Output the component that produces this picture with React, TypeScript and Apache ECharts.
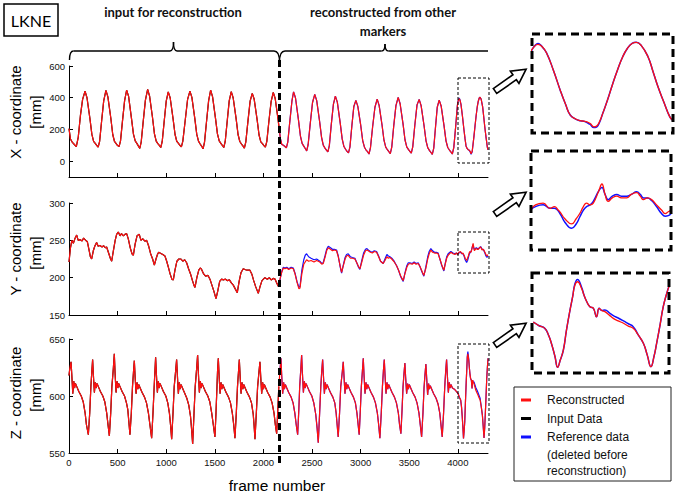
import React, { useEffect, useRef } from "react";
import * as echarts from "echarts";

type P = [number, number];

// ---------- axis tick values ----------
const frameTicks = [0, 500, 1000, 1500, 2000, 2500, 3000, 3500, 4000];
const xCoordTicks = [0, 200, 400, 600];
const yCoordTicks = [150, 200, 250, 300];
const zCoordTicks = [550, 600, 650];
const frameMax = 4310;
const splitFrame = 2163;
const zoomFrames = [4000, 4310];
const xCoordRange = [-100, 600];
const yCoordRange = [150, 300];
const zCoordRange = [550, 650];
const insetXRange = [20, 438];
const insetYRange = [208, 265];
const insetZRange = [557.7, 644.6];

// ---------- reconstructed (red) ----------
const reconX: P[] = [
  [0,205],[15,140],[35,118],[55,105],[75,92],[95,150],[118,290],[140,390],
  [165,441],[185,400],[215,270],[235,170],[253,125],[270,112],[285,100],[300,88],[315,125],[335,250],[357,380],
  [380,446],[400,405],[430,272],[450,168],[468,124],[485,110],[500,98],[515,92],[530,128],[550,252],[572,382],
  [593,448],[613,408],[643,268],[663,170],[681,128],[698,112],[713,96],[728,80],[743,122],[763,248],[786,385],
  [809,452],[829,410],[859,275],[879,172],[897,126],[914,110],[929,99],[944,86],[959,124],[979,250],[1000,378],
  [1021,437],[1041,398],[1071,265],[1091,168],[1109,124],[1126,112],[1141,100],[1156,90],[1171,126],[1195,255],[1220,390],
  [1244,442],[1264,402],[1294,270],[1314,170],[1332,126],[1349,108],[1364,95],[1379,78],[1394,120],[1414,245],[1436,380],
  [1457,448],[1477,405],[1507,270],[1527,172],[1545,128],[1562,112],[1577,100],[1592,86],[1607,124],[1627,250],[1648,380],
  [1669,438],[1689,398],[1719,268],[1739,168],[1757,124],[1774,108],[1789,96],[1804,82],[1819,122],[1840,248],[1863,378],
  [1885,427],[1905,390],[1935,262],[1955,165],[1973,122],[1990,110],[2005,98],[2020,88],[2035,125],[2056,250],[2079,375],
  [2101,433],[2121,395],[2151,262],[2163,200],[2175,140],[2189,105],[2206,100],[2221,92],[2236,84],[2251,122],[2271,248],[2293,378],
  [2310,437],[2330,398],[2360,262],[2380,160],[2398,112],[2415,95],[2430,80],[2445,65],[2460,105],[2482,240],[2505,370],
  [2528,421],[2548,382],[2578,250],[2598,150],[2616,100],[2633,82],[2648,70],[2663,58],[2678,98],[2698,232],[2720,360],
  [2740,410],[2760,372],[2790,240],[2810,140],[2828,92],[2845,75],[2860,62],[2875,52],[2890,90],[2910,225],[2930,345],
  [2951,383],[2971,345],[3001,225],[3021,130],[3039,88],[3056,70],[3071,60],[3086,45],[3101,85],[3123,215],[3147,340],
  [3170,391],[3190,352],[3220,228],[3240,132],[3258,88],[3275,72],[3290,60],[3305,48],[3320,88],[3340,220],[3363,350],
  [3386,402],[3406,362],[3436,235],[3456,135],[3474,90],[3491,74],[3506,62],[3521,50],[3536,90],[3557,225],[3580,355],
  [3602,389],[3622,350],[3652,225],[3672,130],[3690,85],[3707,68],[3722,56],[3737,42],[3752,82],[3768,200],[3788,340],
  [3808,385],[3828,348],[3858,222],[3878,128],[3896,86],[3913,70],[3928,58],[3943,45],[3958,85],[3975,200],[3995,350],[4002,378],
  [4013,394],[4022,385],[4032,358],[4047,285],[4062,201],[4074,140],[4084,96],[4095,80],[4106,72],[4114,70],[4121,67],[4128,60],[4136,46],[4141,48],[4147,62],[4156,105],[4166,159],[4177,225],[4188,286],[4199,340],[4210,378],[4220,398],
  [4229,403],[4240,390],[4255,342],[4266,280],[4277,215],[4290,150],[4303,88],[4310,72],
];

const reconY: P[] = [
  [0,221],[15,240],[30,250],[45,246],[60,252],[79,257],[95,250],[113,251],[135,249],[150,253],[165,251],[180,249],[189,248],[205,238],[220,228],[233,225],[250,236],[265,242],[284,247],[300,242],[319,243],[340,241],[355,243],[375,240],[387,241],[410,232],[425,226],[439,222],[455,235],[475,250],[490,258],[507,261],[525,256],[540,259],[560,256],[575,258],[593,259],[610,252],[630,240],[648,232],[662,230],[680,245],[700,256],[723,258],[740,250],[760,252],[780,249],[799,250],[820,242],[840,232],[860,225],[878,217],[895,225],[910,231],[922,234],[936,233],[950,232],[965,231],[987,229],[1005,222],[1020,215],[1040,205],[1058,198],[1073,197],[1090,210],[1110,222],[1130,225],[1152,225],[1170,222],[1190,224],[1210,220],[1230,212],[1250,205],[1270,196],[1285,190],[1296,187],[1315,200],[1335,210],[1350,213],[1364,211],[1385,205],[1405,202],[1430,203],[1450,198],[1470,190],[1490,182],[1512,172],[1530,182],[1550,195],[1570,198],[1587,197],[1610,198],[1630,196],[1650,197],[1670,193],[1690,190],[1710,185],[1731,180],[1750,195],[1770,207],[1792,212],[1810,211],[1830,210],[1861,210],[1880,205],[1900,196],[1920,188],[1947,179],[1965,188],[1985,196],[2015,200],[2040,198],[2060,200],[2080,197],[2101,199],[2120,198],[2140,192],[2156,188],
  [2170,198],[2190,208],[2205,213],[2221,212],[2240,213],[2260,211],[2285,213],[2307,212],[2325,205],[2345,194],[2365,185],[2376,186],[2395,205],[2415,218],[2444,224],[2465,222],[2490,223],[2520,221],[2547,223],[2580,221],[2600,218],[2615,219],[2635,228],[2650,236],[2667,240],[2690,238],[2710,236],[2730,237],[2752,236],[2770,228],[2790,215],[2804,207],[2820,215],[2840,225],[2855,229],[2872,230],[2895,226],[2915,226],[2941,225],[2960,220],[2978,215],[2992,212],[3010,220],[3030,230],[3050,236],[3065,237],[3078,236],[3100,234],[3120,233],[3140,235],[3164,234],[3185,228],[3205,222],[3232,219],[3250,223],[3270,228],[3285,226],[3301,227],[3320,225],[3345,221],[3370,216],[3390,210],[3410,203],[3425,199],[3438,196],[3455,205],[3475,214],[3490,218],[3506,219],[3530,218],[3550,220],[3570,218],[3592,219],[3610,215],[3630,209],[3650,203],[3670,212],[3690,225],[3705,232],[3722,237],[3740,234],[3760,233],[3780,233],[3797,232],[3815,225],[3835,217],[3856,210],[3870,218],[3885,226],[3900,230],[3928,234],[3950,232],[3970,231],[3985,233],[3999,231],
  [4010,234],[4027,235],[4042,232],[4052,233],[4060,231],[4064,230],[4075,226],[4090,223],[4100,226],[4108,229],[4116,233],[4123,235],[4131,234],[4138,235],[4150,242],[4157,246],[4164,240],[4171,236],[4180,238],[4190,239],[4200,238],[4212,238],[4222,240],[4234,241],[4242,239],[4249,237],[4258,238],[4267,237],[4278,234],[4289,231],[4297,229],[4304,230],[4310,231],
];

const reconZ: P[] = [
  [0,618],[8,624],[21,630],[29,618],[39,602],[49,613],[57,607],[66,611],[81,608],[101,604],[126,600],[146,595],[166,585],[179,575],[199,566],
  [213,585],[225,608],[235,622],[243,632],[251,618],[261,603],[271,612],[279,607],[288,611],[303,608],[323,604],[348,600],[368,595],[388,585],[401,575],[415,565],
  [429,585],[441,608],[456,624],[466,637],[474,620],[484,603],[494,613],[502,607],[511,611],[526,608],[546,604],[571,600],[591,594],[605,588],[615,578],[627,566],
  [641,585],[653,608],[664,622],[672,631],[680,617],[690,602],[700,612],[708,606],[717,610],[732,607],[752,603],[777,599],[797,594],[817,585],[832,575],[850,563],
  [864,585],[876,608],[884,622],[891,634],[899,619],[909,603],[919,613],[927,607],[936,611],[951,608],[971,604],[996,600],[1016,594],[1033,585],[1044,575],[1056,562],
  [1070,585],[1082,608],[1097,622],[1107,632],[1115,618],[1125,602],[1135,612],[1143,606],[1152,610],[1167,607],[1187,603],[1212,598],[1232,592],[1250,582],[1260,572],[1272,558],
  [1286,585],[1298,608],[1313,624],[1323,636],[1331,620],[1341,603],[1351,613],[1359,607],[1368,611],[1383,608],[1403,604],[1428,600],[1448,595],[1468,585],[1484,575],[1501,564],
  [1512,585],[1522,608],[1528,622],[1536,633],[1544,618],[1554,602],[1564,612],[1572,606],[1581,610],[1596,607],[1616,603],[1641,599],[1661,594],[1680,585],[1694,575],[1707,563],
  [1721,585],[1733,608],[1744,622],[1752,632],[1760,618],[1770,602],[1780,612],[1788,606],[1797,610],[1812,607],[1832,603],[1857,599],[1877,594],[1895,584],[1904,574],[1913,562],
  [1927,585],[1940,608],[1954,621],[1964,630],[1972,617],[1982,602],[1992,612],[2000,606],[2009,610],[2024,607],[2044,603],[2069,599],[2089,594],[2109,585],[2122,575],[2136,567],
  [2148,588],[2158,608],[2170,622],[2180,633],[2188,618],[2198,602],[2208,612],[2216,606],[2225,610],[2240,607],[2260,603],[2285,599],[2305,594],[2323,585],[2337,575],[2352,566],
  [2364,588],[2373,608],[2384,623],[2393,636],[2401,620],[2411,603],[2421,613],[2429,607],[2438,611],[2453,608],[2473,604],[2498,600],[2518,594],[2538,584],[2552,572],[2564,559],
  [2578,585],[2590,608],[2600,622],[2609,632],[2617,618],[2627,602],[2637,612],[2645,606],[2654,610],[2669,607],[2689,603],[2714,599],[2734,594],[2748,585],[2758,575],[2769,564],
  [2783,585],[2795,608],[2811,621],[2821,630],[2829,617],[2839,602],[2849,612],[2857,606],[2866,610],[2881,607],[2901,603],[2926,599],[2946,594],[2962,585],[2974,575],[2985,566],
  [2997,588],[3007,608],[3018,622],[3027,633],[3035,618],[3045,602],[3055,612],[3063,606],[3072,610],[3087,607],[3107,603],[3132,599],[3152,594],[3172,585],[3185,575],[3198,563],
  [3212,585],[3224,608],[3234,622],[3243,632],[3251,618],[3261,602],[3271,612],[3279,606],[3288,610],[3303,607],[3323,603],[3348,599],[3368,594],[3388,585],[3400,575],[3414,567],
  [3426,588],[3436,608],[3446,620],[3455,629],[3463,616],[3473,602],[3483,611],[3491,606],[3500,610],[3515,607],[3535,603],[3560,599],[3580,594],[3600,585],[3613,575],[3627,564],
  [3641,585],[3652,607],[3662,619],[3671,628],[3679,616],[3689,601],[3699,611],[3707,606],[3716,609],[3731,606],[3751,602],[3776,598],[3796,593],[3814,585],[3826,575],[3839,564],
  [3853,585],[3865,608],[3875,622],[3884,632],[3892,618],[3902,603],[3912,612],[3920,607],[3929,610],[3944,607],[3964,606],[3984,604],[4003,602],[4015,599],[4029,596.5],[4038,590],[4045,582],[4052,572],[4058,562.7],
  [4064,569],[4071,577.7],[4078,595],[4086,612.4],[4092,624],[4097,634],[4103,637],[4112,631.3],[4118,625],[4124,619.6],[4131,615.3],[4139,613.9],[4146,606.6],[4152,613.9],[4158,612],[4165,611],[4175,608],[4184,605.2],[4195,603],[4207,600.9],[4218,598.5],[4229,596.5],[4240,591],[4252,583.5],[4261,573],[4269,563.2],[4276,572],[4282,583.5],[4290,600],[4297,615.3],[4305,627],[4310,633],
];

// ---------- reference data (blue), second half ----------
const refY: P[] = [
  [2163,189],[2175,200],[2190,209],[2205,214],[2221,213],[2240,214],[2260,212],[2285,214],[2307,213],[2325,206],[2345,195],[2365,187],[2376,188],[2395,210],[2415,224],[2430,230],[2444,232],[2465,228],[2490,226],[2520,224],[2547,225],[2580,222],[2600,219],[2615,220],[2635,230],[2650,238],[2667,242],[2690,240],[2710,238],[2730,238],[2752,237],[2770,229],[2790,214],[2804,206],[2820,216],[2840,227],[2855,231],[2872,232],[2895,228],[2915,227],[2941,226],[2960,220],[2978,214],[2992,211],[3010,222],[3030,233],[3050,238],[3065,239],[3078,237],[3100,235],[3120,234],[3140,236],[3164,235],[3185,229],[3205,222],[3232,219],[3250,225],[3270,231],[3285,229],[3301,228],[3320,226],[3345,222],[3370,216],[3390,210],[3410,202],[3425,198],[3438,195],[3455,206],[3475,216],[3490,220],[3506,220],[3530,219],[3550,221],[3570,219],[3592,220],[3610,215],[3630,208],[3650,202],[3670,214],[3690,228],[3705,235],[3722,239],[3740,236],[3760,234],[3780,234],[3797,233],[3815,225],[3835,216],[3856,209],[3870,219],[3885,228],[3900,232],[3928,235],[3950,233],[3970,232],[3985,233],[3999,231],
  [4010,233],[4027,234],[4042,232],[4052,232],[4064,229],[4075,224],[4090,220.5],[4100,223],[4108,227],[4116,231],[4123,233],[4131,234],[4138,236],[4150,242],[4157,244],[4164,240],[4171,237],[4180,239],[4190,240],[4200,239],[4212,239],[4222,240],[4234,241.5],[4242,240],[4249,238],[4258,238],[4267,236.5],[4278,233],[4289,229],[4297,227.5],[4304,227.8],[4310,229],
];
const refXPeak: P[] = [[4006,388],[4013,398],[4020,390]];
const refXTrough: P[] = [[4121,64],[4128,56],[4136,43],[4141,44],[4147,58]];
const refZPeak: P[] = [[4097,635],[4103,639],[4112,632.5]];
const refZSlope: P[] = [[4165,612.5],[4175,610],[4184,607.5],[4195,605.5],[4207,603],[4218,600.5],[4229,598]];

const legendNames = ["Reconstructed", "Input Data", "Reference data", "(deleted before", "reconstruction)"];

function withOverride(base: P[], over: P[]): P[] {
  const lo = over[0][0];
  const hi = over[over.length - 1][0];
  return [...base.filter((p) => p[0] < lo), ...over, ...base.filter((p) => p[0] > hi)];
}

const FONT = "'Liberation Sans', Arial, sans-serif";

export default function App() {
  const ref = useRef<HTMLDivElement>(null);
  useEffect(() => {
    document.body.style.margin = "0";
    const chart = echarts.init(ref.current!, null, { renderer: "svg" });

    const firstHalf = (d: P[]) => d.filter((p) => p[0] <= splitFrame);
    const secondHalf = (d: P[]) => d.filter((p) => p[0] >= splitFrame);
    const tail = (d: P[]) => d.filter((p) => p[0] >= zoomFrames[0] - 12);

    const blueX = withOverride(withOverride(secondHalf(reconX), refXPeak), refXTrough);
    const blueY = refY;
    const blueZ = withOverride(withOverride(secondHalf(reconZ), refZPeak), refZSlope);

    const grids = [
      { left: 69, top: 66, width: 419, height: 111 },
      { left: 69, top: 203, width: 419, height: 112 },
      { left: 69, top: 339, width: 419, height: 114 },
      { left: 532, top: 34, width: 141, height: 99 },
      { left: 531, top: 151, width: 140, height: 99 },
      { left: 532, top: 273, width: 137, height: 100 },
    ];

    const plain = (v: number) => String(v);
    const mainX = (gi: number, showLabel: boolean) => ({
      type: "value",
      gridIndex: gi,
      min: 0,
      max: frameMax,
      axisLine: { show: true, onZero: false, lineStyle: { color: "#000", width: 1 } },
      axisTick: { show: true, inside: true, length: 4, customValues: frameTicks, lineStyle: { color: "#000" } },
      axisLabel: { show: showLabel, customValues: frameTicks, formatter: plain, fontSize: 9.5, color: "#111", margin: 4, fontFamily: FONT },
      splitLine: { show: false },
    });
    const mainY = (gi: number, range: number[], ticks: number[]) => ({
      type: "value",
      gridIndex: gi,
      min: range[0],
      max: range[1],
      axisLine: { show: true, onZero: false, lineStyle: { color: "#000", width: 1 } },
      axisTick: { show: true, inside: true, length: 4, customValues: ticks, lineStyle: { color: "#000" } },
      axisLabel: { show: true, customValues: ticks, formatter: plain, fontSize: 9.5, color: "#111", margin: 4, fontFamily: FONT },
      splitLine: { show: false },
    });
    const insetX = (gi: number) => ({ type: "value", gridIndex: gi, min: zoomFrames[0], max: zoomFrames[1], show: false });
    const insetY = (gi: number, range: number[]) => ({ type: "value", gridIndex: gi, min: range[0], max: range[1], show: false });

    const line = (idx: number, data: P[], color: string, width: number, smooth = false) => ({
      type: "line",
      xAxisIndex: idx,
      yAxisIndex: idx,
      data,
      symbol: "none",
      showSymbol: false,
      silent: true,
      smooth,
      clip: true,
      lineStyle: { color, width },
    });

    const series: any[] = [];
    const sets: [P[], P[]][] = [
      [reconX, blueX],
      [reconY, blueY],
      [reconZ, blueZ],
    ];
    sets.forEach(([red, blue], i) => {
      series.push(line(i, firstHalf(red), "#000", 1.2));
      series.push(line(i, blue, "#1010ff", 1.2));
      series.push(line(i, red, "#ff1010", 1.2));
    });
    sets.forEach(([red, blue], i) => {
      series.push(line(i + 3, tail(blue), "#1010ff", 1.5, true));
      series.push(line(i + 3, tail(red), "#ff1010", 1.3, true));
    });

    const bracket = { stroke: "#000", lineWidth: 1.4, fill: null };
    const bez = (x1: number, y1: number, x2: number, y2: number, cx: number, cy: number) => ({
      type: "bezierCurve",
      shape: { x1, y1, x2, y2, cpx1: cx, cpy1: cy },
      style: bracket,
    });
    const seg = (x1: number, y1: number, x2: number, y2: number, style: any) => ({
      type: "line",
      shape: { x1, y1, x2, y2 },
      style,
    });
    const txt = (text: string, x: number, y: number, size: number, opts: any = {}) => ({
      type: "text",
      x,
      y,
      rotation: opts.rotation || 0,
      style: {
        text,
        fontSize: size,
        fontFamily: opts.family || FONT,
        fontWeight: opts.weight || "normal",
        fill: opts.fill || "#000",
        align: opts.align || "center",
        verticalAlign: "middle",
        textAlign: opts.align || "center",
        textVerticalAlign: "middle",
      },
    });
    const arrow = (x: number, y: number) => ({
      type: "polygon",
      x,
      y,
      rotation: (35 * Math.PI) / 180,
      shape: { points: [[0, -3], [24, -3], [24, -7.5], [38, 0], [24, 7.5], [24, 3], [0, 3]] },
      style: { fill: "#fff", stroke: "#000", lineWidth: 1.6 },
    });
    const dashedBox = (x: number, y: number, w: number, h: number, thick: boolean) => ({
      type: "rect",
      shape: { x, y, width: w, height: h },
      style: thick
        ? { fill: null, stroke: "#000", lineWidth: 3, lineDash: [8, 5] }
        : { fill: null, stroke: "#000", lineWidth: 1, lineDash: [3, 2] },
      z: 10,
    });
    const rot = Math.PI / 2;

    const elements: any[] = [
      // LKNE box
      { type: "rect", shape: { x: 4, y: 4, width: 54, height: 32 }, style: { fill: "#fff", stroke: "#000", lineWidth: 1.5 } },
      txt("LKNE", 31, 20, 16, { family: "Lato, 'Open Sans', sans-serif" }),
      // headings
      txt("input for reconstruction", 173, 12, 13, { family: "Lato, sans-serif", weight: "bold", fill: "#111" }),
      txt("reconstructed from other", 383, 12, 13, { family: "Lato, sans-serif", weight: "bold", fill: "#111" }),
      txt("markers", 383, 31, 13, { family: "Lato, sans-serif", weight: "bold", fill: "#111" }),
      // left brace
      bez(69.5, 60, 73.5, 51, 69.5, 51),
      seg(73.5, 51, 170, 51, bracket),
      bez(170, 51, 173.5, 42, 173.5, 51),
      bez(173.5, 42, 177, 51, 173.5, 51),
      seg(177, 51, 274, 51, bracket),
      bez(274, 51, 279.5, 62, 279.5, 51),
      // right brace
      bez(279.5, 62, 285, 51, 279.5, 51),
      seg(285, 51, 381.5, 51, bracket),
      bez(381.5, 51, 385, 44, 385, 51),
      bez(385, 44, 388.5, 51, 385, 51),
      seg(388.5, 51, 488, 51, bracket),
      // split line
      { type: "line", shape: { x1: 279.5, y1: 60, x2: 279.5, y2: 463 }, style: { stroke: "#000", lineWidth: 3, lineDash: [7, 4] }, z: 20 },
      // axis titles
      txt("X - coordinate", 15, 112, 15, { rotation: rot }),
      txt("[mm]", 35, 112, 15, { rotation: rot }),
      txt("Y - coordinate", 15, 249, 15, { rotation: rot }),
      txt("[mm]", 35, 253, 15, { rotation: rot }),
      txt("Z - coordinate", 15, 393, 15, { rotation: rot }),
      txt("[mm]", 35, 395, 15, { rotation: rot }),
      txt("frame number", 277, 485, 15.5),
      // small boxes on main plots
      dashedBox(458, 78, 31, 85, false),
      dashedBox(458, 232, 31, 41, false),
      dashedBox(458, 344, 31, 99, false),
      // inset boxes
      dashedBox(532, 34, 141, 99, true),
      dashedBox(531, 151, 140, 99, true),
      dashedBox(532, 273, 137, 100, true),
      // arrows
      arrow(495, 91),
      arrow(495, 214),
      arrow(495, 345),
      // legend
      { type: "rect", shape: { x: 514, y: 387, width: 157, height: 94 }, style: { fill: "#fff", stroke: "#222", lineWidth: 1 } },
      seg(521, 400, 531, 400, { stroke: "#ff1010", lineWidth: 3 }),
      seg(521, 418.5, 531, 418.5, { stroke: "#000", lineWidth: 3 }),
      seg(521, 437, 531, 437, { stroke: "#1010ff", lineWidth: 3 }),
      txt(legendNames[0], 547, 400, 12, { align: "left", fill: "#111" }),
      txt(legendNames[1], 547, 418.5, 12, { align: "left", fill: "#111" }),
      txt(legendNames[2], 547, 437, 12, { align: "left", fill: "#111" }),
      txt(legendNames[3], 547, 455, 12, { align: "left", fill: "#111" }),
      txt(legendNames[4], 547, 471, 12, { align: "left", fill: "#111" }),
    ];

    chart.setOption({
      animation: false,
      backgroundColor: "#fff",
      grid: grids,
      xAxis: [mainX(0, false), mainX(1, false), mainX(2, true), insetX(3), insetX(4), insetX(5)],
      yAxis: [
        mainY(0, xCoordRange, xCoordTicks),
        mainY(1, yCoordRange, yCoordTicks),
        mainY(2, zCoordRange, zCoordTicks),
        insetY(3, insetXRange),
        insetY(4, insetYRange),
        insetY(5, insetZRange),
      ],
      series,
      graphic: elements,
    });
    return () => chart.dispose();
  }, []);
  return <div ref={ref} style={{ width: 677, height: 494 }} />;
}
